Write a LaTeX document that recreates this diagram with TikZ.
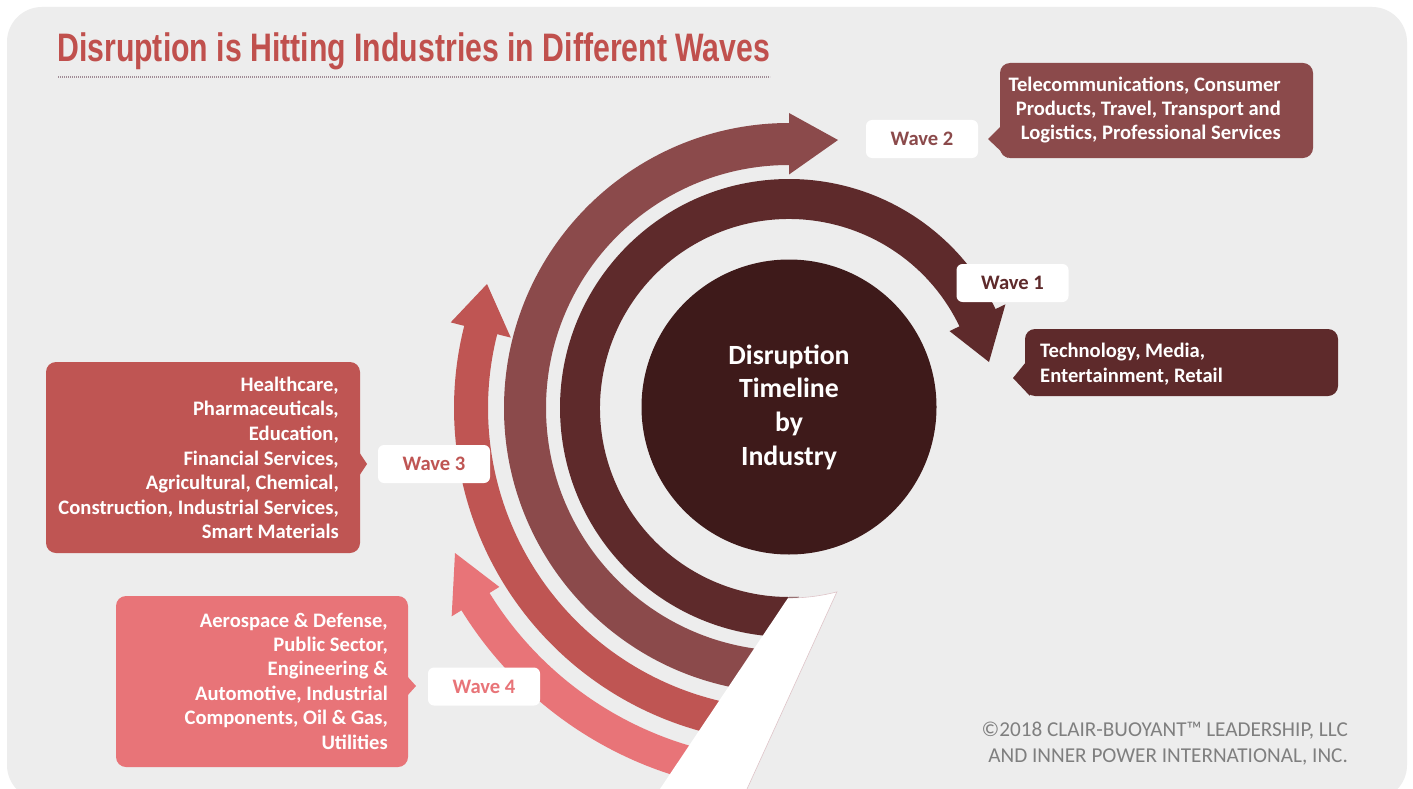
\documentclass[tikz,border=0pt]{standalone}
\usepackage{fontspec}
\usepackage{graphicx}
\setmainfont{Carlito}
\newfontfamily\headfont{Liberation Sans}

\definecolor{canvasgray}{RGB}{237,237,237}
\definecolor{titlered}{RGB}{192,80,77}
\definecolor{ruleline}{RGB}{160,140,150}
\definecolor{waveA}{RGB}{94,42,43}
\definecolor{waveB}{RGB}{139,74,75}
\definecolor{waveC}{RGB}{191,85,83}
\definecolor{waveD}{RGB}{232,116,120}
\definecolor{corecol}{RGB}{62,26,26}
\definecolor{copygray}{RGB}{127,127,127}
\definecolor{stripedge}{RGB}{222,196,200}

\begin{document}
\begin{tikzpicture}[x=1pt,y=-1pt,
  wavelabel/.style={fill=white, rounded corners=6pt, minimum width=112pt,
    minimum height=38pt, inner sep=0pt,
    font=\fontsize{20.6}{24}\selectfont\bfseries},
  boxtext/.style={text=white, inner sep=0pt,
    font=\fontsize{20.6}{24.4}\selectfont\bfseries},
  callout/.style={rounded corners=10pt}
]
\useasboundingbox (0,0) rectangle (1413,789);

% page and panel
\fill[white] (0,0) rectangle (1413,789);
\fill[canvasgray, rounded corners=35pt] (7,7) rectangle (1407,800);

% title and dotted rule
\node[anchor=base west, inner sep=0pt, text=titlered] (title) at (57,62)
  {\resizebox{713pt}{28.8pt}{\headfont\bfseries Disruption is Hitting Industries in Different Waves}};
\draw[ruleline, line width=1.3pt, dash pattern=on 1.2pt off 0.8pt] (58,77) -- (770,77);

% curved wave arrows around the core
\begin{scope}[shift={(789,408)}, yscale=-1]
  \fill[waveD] (258:385) arc[start angle=258, end angle=211.7, radius=385]
     -- (211.7:396.5) -- (-334,-145) -- (211.7:340.5) -- (211.7:352)
     arc[start angle=211.7, end angle=258, radius=352] -- cycle;
  \fill[waveC] (261:335) arc[start angle=261, end angle=165.8, radius=335]
     -- (165.8:349) -- (-302,124) -- (165.8:287) -- (165.8:301)
     arc[start angle=165.8, end angle=261, radius=301] -- cycle;
  \fill[waveB] (266:285) arc[start angle=266, end angle=90, radius=285]
     -- (90:295) -- (49,268) -- (90:233.5) -- (90:243)
     arc[start angle=90, end angle=266, radius=243] -- cycle;
  \fill[waveA] (273:229) arc[start angle=273, end angle=25.6, radius=229]
     -- (25.6:240) -- (200,46) -- (25.6:178) -- (25.6:189)
     arc[start angle=25.6, end angle=273, radius=189] -- cycle;
  % white strip cutting the tails
  \fill[white] (-136.4,-392) -- (269.7:190)
     arc[start angle=269.7, end angle=284.6, radius=190] -- (-47,-392) -- cycle;
  \draw[stripedge, line width=0.6pt] (269.7:190)
     arc[start angle=269.7, end angle=284.6, radius=190] -- (-47,-392);
\end{scope}

% core circle
\node[circle, fill=corecol, minimum size=295pt, inner sep=0pt, align=center,
  text=white, font=\fontsize{27.8}{33.7}\selectfont\bfseries] (core) at (789,407)
  {Disruption\\Timeline\\by\\Industry};

% callout: wave 2
\fill[waveB, callout] (1000,63) rectangle (1313,158);
\fill[waveB] (1001,126) -- (988,139) -- (1008,158) -- cycle;
\node[boxtext, anchor=east, align=right] (txtB) at (1281,110)
  {Telecommunications, Consumer\\Products, Travel, Transport and\\Logistics, Professional Services};

% callout: wave 1
\fill[waveA, callout] (1025,329) rectangle (1338,396);
\fill[waveA] (1026,362) -- (1013,378) -- (1030,396) -- cycle;
\node[boxtext, anchor=west, align=left] (txtA) at (1040,364)
  {Technology, Media,\\Entertainment, Retail};

% callout: wave 3
\fill[waveC, callout] (46,362) rectangle (360,553);
\fill[waveC] (359,452) -- (367,464) -- (359,476) -- cycle;
\node[boxtext, anchor=east, align=right, font=\fontsize{20.6}{24.6}\selectfont\bfseries] (txtC) at (339,458)
  {Healthcare,\\Pharmaceuticals,\\Education,\\Financial Services,\\Agricultural, Chemical,\\Construction, Industrial Services,\\Smart Materials};

% callout: wave 4
\fill[waveD, callout] (116,596) rectangle (408,767);
\fill[waveD] (407,676) -- (416,686) -- (407,696) -- cycle;
\node[boxtext, anchor=east, align=right] (txtD) at (388,681)
  {Aerospace \& Defense,\\Public Sector,\\Engineering \&\\Automotive, Industrial\\Components, Oil \& Gas,\\Utilities};

% wave labels
\node[wavelabel, text=waveA] (lblA) at (1012.5,283) {Wave 1};
\node[wavelabel, text=waveB] (lblB) at (922,139) {Wave 2};
\node[wavelabel, text=waveC] (lblC) at (434,464) {Wave 3};
\node[wavelabel, text=waveD] (lblD) at (484,686.5) {Wave 4};

% copyright
\node[anchor=east, align=right, inner sep=0pt, text=copygray,
  font=\fontsize{21.2}{26}\selectfont] (copy) at (1348,744)
  {©2018 CLAIR-BUOYANT™ LEADERSHIP, LLC\\AND INNER POWER INTERNATIONAL, INC.};
\end{tikzpicture}
\end{document}
